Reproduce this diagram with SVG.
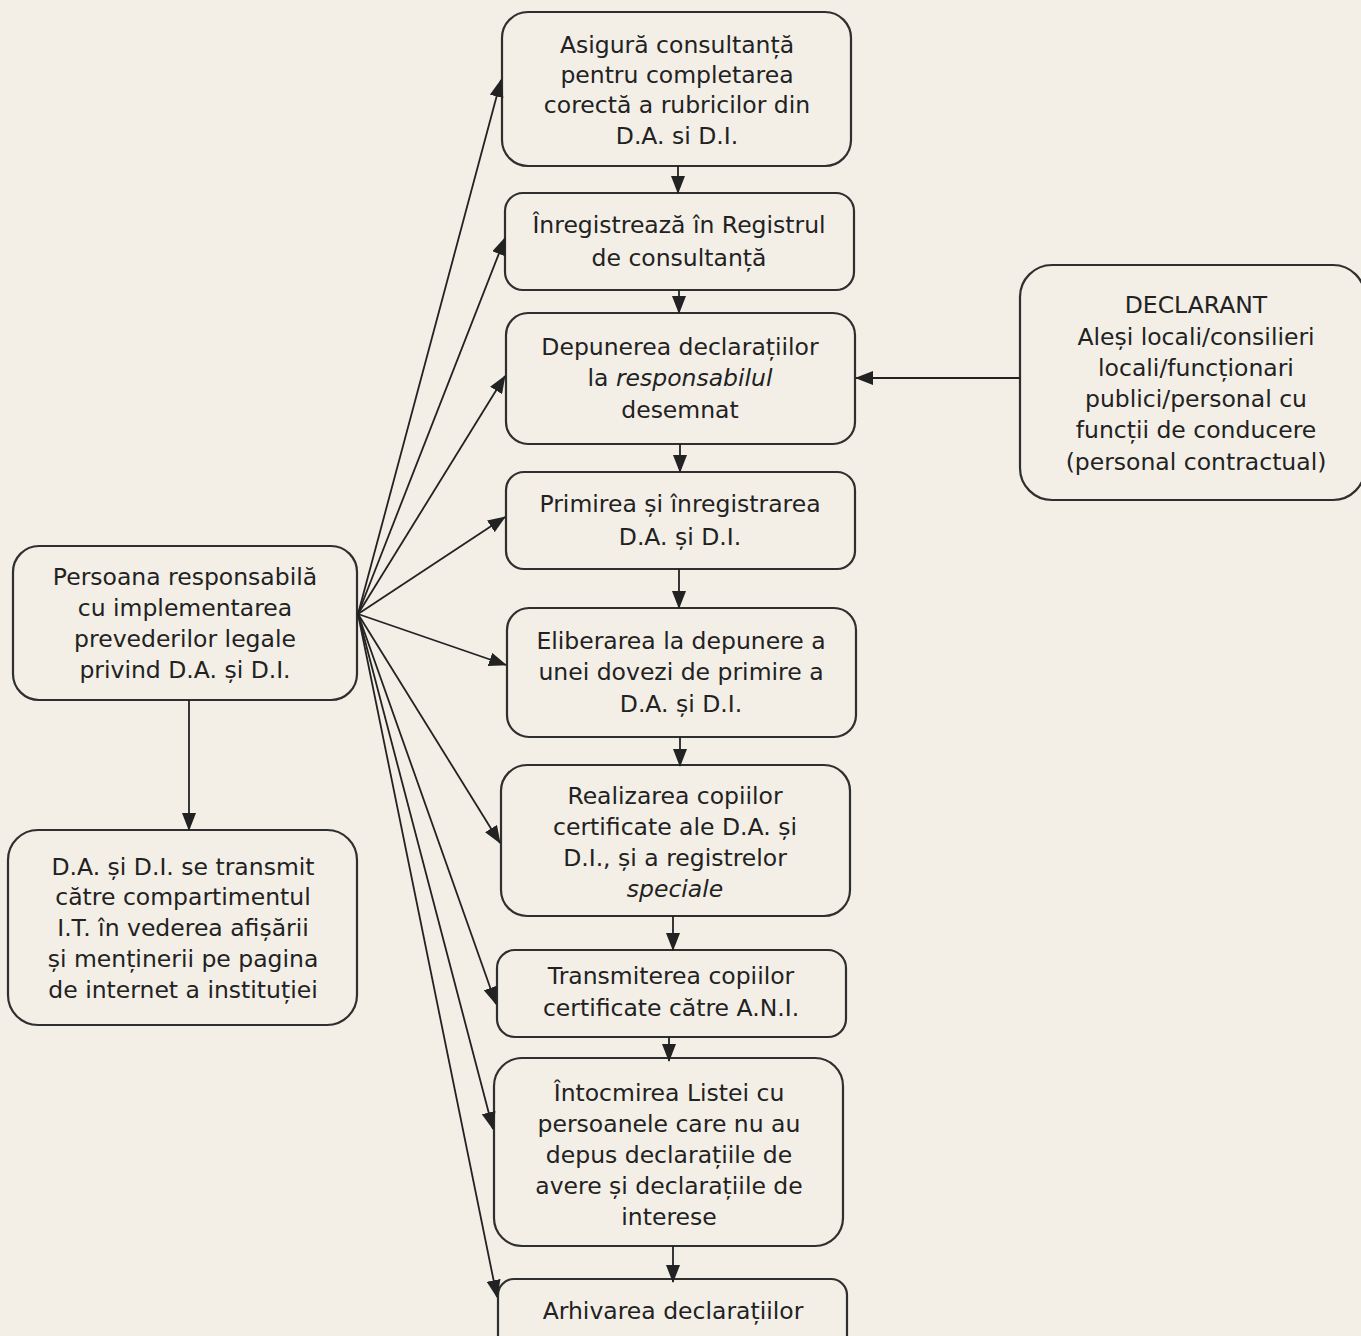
<svg xmlns="http://www.w3.org/2000/svg" width="1361" height="1336" viewBox="0 0 1361 1336">
<defs>
<marker id="ah" markerUnits="userSpaceOnUse" markerWidth="18" markerHeight="14" refX="17" refY="7" orient="auto">
<path d="M0,0 L18,7 L0,14 z" fill="#222"/>
</marker>
<style>
.box{fill:none;stroke:#2f2f2f;stroke-width:2.2}
.t{font-family:"DejaVu Sans",Verdana,sans-serif;font-size:23.5px;fill:#222;text-anchor:middle}
.i{font-style:italic}
.c{stroke:#222;stroke-width:1.8;fill:none;marker-end:url(#ah)}
</style>
</defs>
<rect width="1361" height="1336" fill="#f3efe6"/>
<g id="n1"><rect class="box" x="502" y="12" width="349" height="154" rx="26"/>
<text class="t"><tspan x="677" y="53">Asigură consultanță</tspan><tspan x="677" y="83">pentru completarea</tspan><tspan x="677" y="113">corectă a rubricilor din</tspan><tspan x="677" y="144">D.A. si D.I.</tspan></text></g>
<g id="n2"><rect class="box" x="505" y="193" width="349" height="97" rx="18"/>
<text class="t"><tspan x="679" y="233">Înregistrează în Registrul</tspan><tspan x="679" y="266">de consultanță</tspan></text></g>
<g id="n3"><rect class="box" x="506" y="313" width="349" height="131" rx="22"/>
<text class="t"><tspan x="680" y="355">Depunerea declarațiilor</tspan><tspan x="680" y="386">la <tspan class="i">responsabilul</tspan></tspan><tspan x="680" y="418">desemnat</tspan></text></g>
<g id="n4"><rect class="box" x="506" y="472" width="349" height="97" rx="18"/>
<text class="t"><tspan x="680" y="512">Primirea și înregistrarea</tspan><tspan x="680" y="545">D.A. și D.I.</tspan></text></g>
<g id="n5"><rect class="box" x="507" y="608" width="349" height="129" rx="22"/>
<text class="t"><tspan x="681" y="649">Eliberarea la depunere a</tspan><tspan x="681" y="680">unei dovezi de primire a</tspan><tspan x="681" y="712">D.A. și D.I.</tspan></text></g>
<g id="n6"><rect class="box" x="501" y="765" width="349" height="151" rx="26"/>
<text class="t"><tspan x="675" y="804">Realizarea copiilor</tspan><tspan x="675" y="835">certificate ale D.A. și</tspan><tspan x="675" y="866">D.I., și a registrelor</tspan><tspan class="i" x="675" y="897">speciale</tspan></text></g>
<g id="n7"><rect class="box" x="497" y="950" width="349" height="87" rx="18"/>
<text class="t"><tspan x="671" y="984">Transmiterea copiilor</tspan><tspan x="671" y="1016">certificate către A.N.I.</tspan></text></g>
<g id="n8"><rect class="box" x="494" y="1058" width="349" height="188" rx="28"/>
<text class="t"><tspan x="669" y="1101">Întocmirea Listei cu</tspan><tspan x="669" y="1132">persoanele care nu au</tspan><tspan x="669" y="1163">depus declarațiile de</tspan><tspan x="669" y="1194">avere și declarațiile de</tspan><tspan x="669" y="1225">interese</tspan></text></g>
<g id="n9"><rect class="box" x="498" y="1279" width="349" height="80" rx="16"/>
<text class="t"><tspan x="673" y="1319">Arhivarea declarațiilor</tspan></text></g>
<g id="declarant"><rect class="box" x="1020" y="265" width="345" height="235" rx="32"/>
<text class="t"><tspan x="1196" y="313">DECLARANT</tspan><tspan x="1196" y="345">Aleși locali/consilieri</tspan><tspan x="1196" y="376">locali/funcționari</tspan><tspan x="1196" y="407">publici/personal cu</tspan><tspan x="1196" y="438">funcții de conducere</tspan><tspan x="1196" y="470">(personal contractual)</tspan></text></g>
<g id="resp"><rect class="box" x="13" y="546" width="344" height="154" rx="26"/>
<text class="t"><tspan x="185" y="585">Persoana responsabilă</tspan><tspan x="185" y="616">cu implementarea</tspan><tspan x="185" y="647">prevederilor legale</tspan><tspan x="185" y="678">privind D.A. și D.I.</tspan></text></g>
<g id="it"><rect class="box" x="8" y="830" width="349" height="195" rx="30"/>
<text class="t"><tspan x="183" y="875">D.A. și D.I. se transmit</tspan><tspan x="183" y="905">către compartimentul</tspan><tspan x="183" y="936">I.T. în vederea afișării</tspan><tspan x="183" y="967">și menținerii pe pagina</tspan><tspan x="183" y="998">de internet a instituției</tspan></text></g>
<g id="connectors">
<line class="c" x1="358" y1="614" x2="501" y2="80"/>
<line class="c" x1="358" y1="614" x2="505" y2="238"/>
<line class="c" x1="358" y1="614" x2="505" y2="376"/>
<line class="c" x1="358" y1="614" x2="505" y2="517"/>
<line class="c" x1="358" y1="614" x2="506" y2="665"/>
<line class="c" x1="358" y1="614" x2="500" y2="843"/>
<line class="c" x1="358" y1="614" x2="496" y2="1004"/>
<line class="c" x1="358" y1="614" x2="493" y2="1129"/>
<line class="c" x1="358" y1="614" x2="497" y2="1297"/>
<line class="c" x1="678" y1="166" x2="678" y2="193"/>
<line class="c" x1="679" y1="290" x2="679" y2="313"/>
<line class="c" x1="680" y1="444" x2="680" y2="472"/>
<line class="c" x1="679" y1="569" x2="679" y2="608"/>
<line class="c" x1="680" y1="737" x2="680" y2="766"/>
<line class="c" x1="673" y1="916" x2="673" y2="950"/>
<line class="c" x1="669" y1="1037" x2="669" y2="1061"/>
<line class="c" x1="673" y1="1246" x2="673" y2="1282"/>
<line class="c" x1="1020" y1="378" x2="856" y2="378"/>
<line class="c" x1="189" y1="700" x2="189" y2="830"/>
</g>
</svg>
